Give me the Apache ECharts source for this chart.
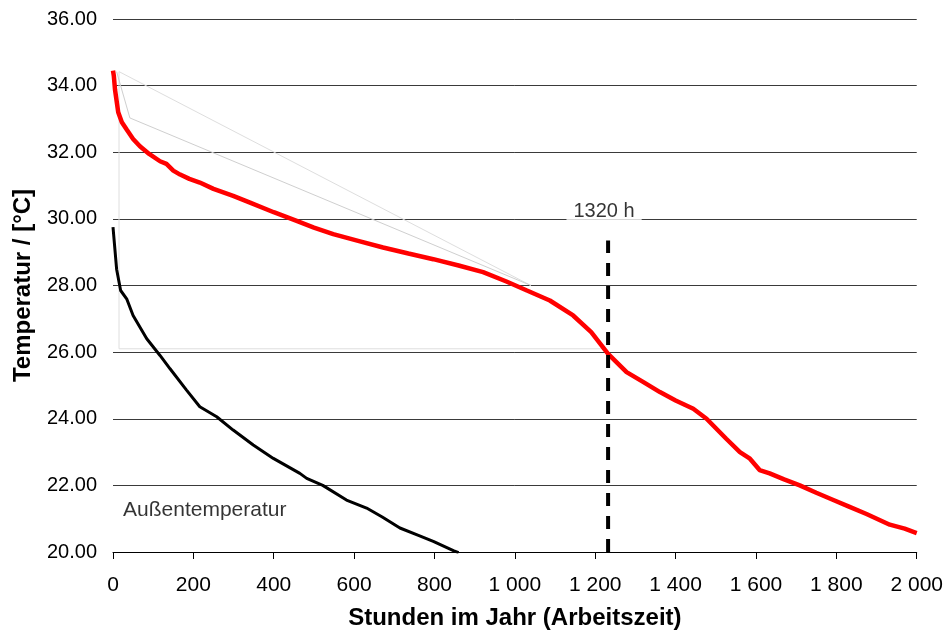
<!DOCTYPE html>
<html>
<head>
<meta charset="utf-8">
<script src="https://cdn.jsdelivr.net/npm/echarts@6/dist/echarts.min.js"></script>
<style>
  html, body { margin: 0; padding: 0; background: #fff; }
  #echarts_main { width: 946px; height: 635px; }
</style>
</head>
<body>
<div id="echarts_main"></div>
<script>
// Raumtemperatur (rot), Stunden -> °C, sortiert
var raumStunden = [0, 2, 5, 13, 22, 34, 50, 67, 90, 117, 133, 150, 167, 190, 216, 250, 299, 341, 400, 457, 500, 548, 610, 672, 735, 797, 860, 921, 979, 1030, 1087, 1145, 1190, 1232, 1278, 1320, 1361, 1400, 1444, 1477, 1526, 1560, 1585, 1609, 1634, 1670, 1709, 1750, 1791, 1830, 1875, 1933, 1970, 2000];
var raumTemp = [34.45, 34.3, 33.88, 33.2, 32.9, 32.68, 32.4, 32.18, 31.95, 31.73, 31.65, 31.45, 31.33, 31.2, 31.09, 30.9, 30.69, 30.49, 30.2, 29.94, 29.74, 29.54, 29.34, 29.14, 28.96, 28.79, 28.6, 28.4, 28.12, 27.85, 27.55, 27.1, 26.6, 25.95, 25.4, 25.1, 24.8, 24.55, 24.3, 24.0, 23.4, 23.0, 22.8, 22.46, 22.36, 22.18, 22.0, 21.78, 21.57, 21.37, 21.14, 20.82, 20.7, 20.57];

// Außentemperatur (schwarz)
var aussenStunden = [0, 2, 9, 19, 34, 50, 84, 117, 142, 183, 216, 258, 299, 349, 399, 465, 482, 522, 581, 631, 670, 714, 760, 797, 847, 860];
var aussenTemp = [29.75, 29.69, 28.49, 27.85, 27.6, 27.1, 26.4, 25.9, 25.5, 24.86, 24.36, 24.06, 23.66, 23.21, 22.81, 22.36, 22.21, 22.0, 21.56, 21.32, 21.05, 20.72, 20.5, 20.32, 20.04, 19.98];

// dünne graue Hilfslinien (Excel-Reste)
var grauA = [[1220, 26.1], [15, 26.1], [15, 34.42], [1040, 28.0]];
var grauB = [[9, 34.42], [42, 33.03], [1040, 28.0]];

// Markierung
var markStunde = 1232;
var markBis = 29.35;
var markText = '1320 h';

var yTicks = [20, 22, 24, 26, 28, 30, 32, 34, 36];

function zip(a, b) {
  var out = [];
  for (var i = 0; i < a.length; i++) out.push([a[i], b[i]]);
  return out;
}

// Tausendertrennung mit Leerzeichen: 1 000
function tausender(v) {
  var s = String(v);
  if (s.length > 3) s = s.slice(0, s.length - 3) + ' ' + s.slice(s.length - 3);
  return s;
}

var font = 'Liberation Sans, Arial, sans-serif';
var myChart = echarts.init(document.getElementById('echarts_main'));
myChart.setOption({
  animation: false,
  backgroundColor: '#fff',
  textStyle: { fontFamily: font },
  grid: { left: 113, right: 29, top: 19, bottom: 81 },
  xAxis: {
    type: 'value',
    min: 0, max: 2000, interval: 200,
    name: 'Stunden im Jahr (Arbeitszeit)',
    nameLocation: 'middle',
    nameGap: 54,
    nameTextStyle: { fontSize: 24, fontWeight: 'bold', color: '#000', fontFamily: font },
    axisLine: { show: true, lineStyle: { color: '#000', width: 1 } },
    axisTick: { show: true, length: 7, lineStyle: { color: '#000' } },
    axisLabel: { fontSize: 21, color: '#000', margin: 23, formatter: tausender },
    splitLine: { show: false }
  },
  yAxis: {
    type: 'value',
    min: yTicks[0], max: yTicks[yTicks.length - 1], interval: 2,
    name: 'Temperatur / [°C]',
    nameLocation: 'middle',
    nameGap: 78,
    nameTextStyle: { fontSize: 24, fontWeight: 'bold', color: '#000', fontFamily: font },
    axisLine: { show: false },
    axisTick: { show: false },
    axisLabel: { fontSize: 20, color: '#000', margin: 16, formatter: function (v) { return v.toFixed(2); } },
    splitLine: { show: true, lineStyle: { color: '#3a3a3a', width: 1 } }
  },
  series: [
    {
      name: 'grauA', type: 'line', data: grauA, symbol: 'none', silent: true,
      lineStyle: { color: '#dedede', width: 1 }
    },
    {
      name: 'grauB', type: 'line', data: grauB, symbol: 'none', silent: true,
      lineStyle: { color: '#cfcfcf', width: 1 }
    },
    {
      name: 'Raumtemperatur', type: 'line', data: zip(raumStunden, raumTemp),
      symbol: 'none', lineStyle: { color: '#ff0000', width: 4.5 }
    },
    {
      name: 'Außentemperatur', type: 'line', data: zip(aussenStunden, aussenTemp),
      symbol: 'none', lineStyle: { color: '#000', width: 3 }
    },
    {
      name: 'Markierung', type: 'line', data: [[markStunde, 20], [markStunde, markBis]],
      symbol: 'none', z: 5,
      lineStyle: { color: '#000', width: 4, type: [13, 10] }
    },
    {
      name: 'Texte', type: 'scatter', symbolSize: 0, z: 6,
      data: [
        { value: [1222, 30], label: { show: true, formatter: markText, position: 'inside', offset: [0, -7], backgroundColor: '#fff', padding: [2, 7, 4, 7], fontSize: 20, color: '#000' } },
        { value: [25, 21.26], label: { show: true, formatter: 'Außentemperatur', position: 'right', distance: 0, fontSize: 21, color: '#000' } }
      ]
    }
  ]
});
</script>
</body>
</html>
